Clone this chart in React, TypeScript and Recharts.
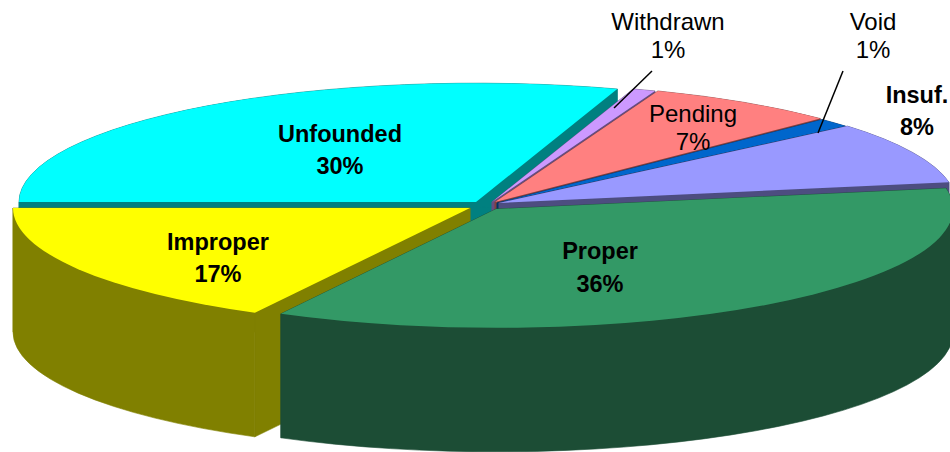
import React from "react";
import { PieChart, Pie } from "recharts";

// clockwise from the left edge, which is where Unfounded starts
const names = ["Unfounded", "Withdrawn", "Pending", "Void", "Insuf.", "Proper", "Improper"];
const values = [30.0, 0.8, 6.8, 1.2, 8.4, 35.6, 17.2];

const tops = ["#00ffff", "#cc99ff", "#ff8080", "#0066cc", "#9999ff", "#339966", "#ffff00"];
const walls = ["#008080", "#664d80", "#804040", "#003366", "#4d4d80", "#1c4d35", "#808000"];

const data = names.map((name, i) => ({ name, value: values[i] }));

const CX = 485;
const CY = 205;
const RADIUS = 457;
const SQUASH = 0.26;
const DEPTH = 124;

// how far each slice is pulled away from the centre
const explode: Record<string, [number, number]> = {
  Unfounded: [-9, -3],
  Withdrawn: [7, -3],
  Pending: [10, -3],
  Void: [12, -2],
  "Insuf.": [14, -2],
  Proper: [11, 4],
  Improper: [-15, 3],
};

const labelSpots: Record<string, { x: number; y: number; bold: boolean; gap: number; line?: number[] }> = {
  Unfounded: { x: 340, y: 142, bold: true, gap: 32 },
  Withdrawn: { x: 668, y: 30, bold: false, gap: 28, line: [652, 71, 614, 108] },
  Pending: { x: 693, y: 122, bold: false, gap: 28 },
  Void: { x: 873, y: 30, bold: false, gap: 28, line: [843, 71, 818, 133] },
  "Insuf.": { x: 917, y: 103, bold: true, gap: 32 },
  Proper: { x: 600, y: 259, bold: true, gap: 33 },
  Improper: { x: 218, y: 250, bold: true, gap: 32 },
};

function SliceShape(props: any) {
  const { name, index, startAngle, endAngle, layer } = props;
  const isProper = name === "Proper";
  // Proper sits in front of everything, so it gets its own pass
  if ((layer === "front") !== isProper) return <g />;

  const [dx, dy] = explode[name];
  const ax = CX + dx;
  const ay = CY + dy;
  const rad = Math.PI / 180;
  const ry = RADIUS * SQUASH;
  const px = (a: number) => ax + RADIUS * Math.cos(a * rad);
  const py = (a: number) => ay - ry * Math.sin(a * rad);

  const x1 = px(startAngle);
  const y1 = py(startAngle);
  const x2 = px(endAngle);
  const y2 = py(endAngle);
  const top = `M${ax} ${ay}L${x1} ${y1}A${RADIUS} ${ry} 0 0 1 ${x2} ${y2}Z`;

  const band = (a: number, b: number) =>
    `M${px(a)} ${py(a)}A${RADIUS} ${ry} 0 0 1 ${px(b)} ${py(b)}L${px(b)} ${py(b) + DEPTH}` +
    `A${RADIUS} ${ry} 0 0 0 ${px(a)} ${py(a) + DEPTH}Z`;
  // the wall has to be split where it turns round at the right hand side
  const bands = startAngle > 0 && endAngle < 0 ? [band(startAngle, 0), band(0, endAngle)] : [band(startAngle, endAngle)];
  const side1 = `M${ax} ${ay}L${x1} ${y1}L${x1} ${y1 + DEPTH}L${ax} ${ay + DEPTH}Z`;
  const side2 = `M${ax} ${ay}L${x2} ${y2}L${x2} ${y2 + DEPTH}L${ax} ${ay + DEPTH}Z`;

  return (
    <g>
      {[side1, side2, ...bands].map((d, i) => (
        <path key={i} d={d} fill={walls[index]} stroke={walls[index]} strokeWidth={0.6} />
      ))}
      <path d={top} fill={tops[index]} />
    </g>
  );
}

function renderLabel(props: any) {
  const spot = labelSpots[props.name];
  const style = {
    fontFamily: "'Liberation Sans', Arial, sans-serif",
    fontSize: spot.bold ? 23.5 : 24,
    fontWeight: spot.bold ? 700 : 400,
  };
  return (
    <g>
      {spot.line && (
        <line x1={spot.line[0]} y1={spot.line[1]} x2={spot.line[2]} y2={spot.line[3]} stroke="#000" strokeWidth={1.5} />
      )}
      <text x={spot.x} y={spot.y} textAnchor="middle" fill="#000" style={style}>
        {props.name}
      </text>
      <text x={spot.x} y={spot.y + spot.gap} textAnchor="middle" fill="#000" style={style}>
        {Math.round(props.value)}%
      </text>
    </g>
  );
}

export default function App() {
  return (
    <div style={{ position: "absolute", left: 0, top: 0, width: 950, height: 452, background: "#fff" }}>
      <PieChart width={950} height={452} margin={{ top: 0, right: 0, bottom: 0, left: 0 }}>
        <Pie
          data={data}
          dataKey="value"
          nameKey="name"
          cx={CX}
          cy={CY}
          outerRadius={RADIUS}
          startAngle={180}
          endAngle={-180}
          stroke="none"
          isAnimationActive={false}
          shape={(p: any) => <SliceShape {...p} layer="back" />}
        />
        <Pie
          data={data}
          dataKey="value"
          nameKey="name"
          cx={CX}
          cy={CY}
          outerRadius={RADIUS}
          startAngle={180}
          endAngle={-180}
          stroke="none"
          isAnimationActive={false}
          shape={(p: any) => <SliceShape {...p} layer="front" />}
          label={renderLabel}
          labelLine={false}
        />
      </PieChart>
    </div>
  );
}
